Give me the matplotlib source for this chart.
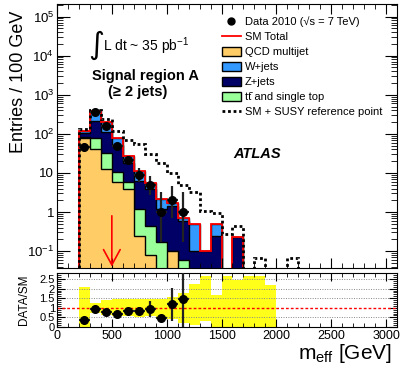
import numpy as np
import matplotlib
matplotlib.use('Agg')
from matplotlib import pyplot as plt
from matplotlib.lines import Line2D
from matplotlib.patches import Patch
from matplotlib.ticker import LogLocator, MultipleLocator, FuncFormatter, NullFormatter

plt.rcParams['font.family'] = ['Liberation Sans', 'DejaVu Sans']
plt.rcParams['mathtext.fontset'] = 'custom'
plt.rcParams['mathtext.rm'] = 'Liberation Sans'
plt.rcParams['mathtext.it'] = 'Liberation Sans:italic'
plt.rcParams['mathtext.bf'] = 'Liberation Sans:bold'

# m_eff histograms, 100 GeV bins starting at 200 GeV
first_edge = 200
bin_width = 100

# SM backgrounds (bins 200-1700)
qcd = [80, 40, 12.5, 5.7, 3.9, 0.25, 0.08, 0, 0.1, 0, 0, 0, 0, 0, 0]
ttbar = [1, 37, 20, 4.6, 1.8, 0.94, 0.37, 0.17, 0, 0.06, 0, 0, 0, 0, 0]
zjets = [27, 136, 80, 43, 12.8, 5.1, 3.55, 1.03, 1.35, 0.54, 0.1, 0.1, 0.24, 0, 0.23]
wjets = [12, 177, 83, 25, 8.5, 5.2, 1.5, 1.0, 0.25, 0.12, 0.39, 0, 0.25, 0, 0]

# SM + SUSY reference point (bins 200-2200)
susy = [135, 400, 240, 120, 70, 54, 30, 18, 10, 5, 3.2, 1.08, 0.95, 0.275, 0.45,
        0, 0.067, 0, 0, 0.067]

# data 2010 (bins 200-1200)
data = [47, 360, 155, 48, 21, 9, 5, 1, 2, 1]
data_err_lo = [6.8, 19, 12.4, 6.9, 4.6, 3.0, 2.2, 0.83, 1.29, 0.83]
data_err_hi = [7.9, 20, 13.4, 8.0, 5.6, 4.1, 3.4, 2.3, 2.6, 2.3]

# ratio panel
ratio = [0.39, 0.96, 0.8, 0.66, 0.82, 0.82, 0.95, 0.46, 1.18, 1.45]
ratio_err = [0.06, 0.05, 0.065, 0.09, 0.17, 0.2, 0.42, 0.05, 0.87, 1.45]
band_lo = [0, 0.72, 0.6, 0.55, 0.55, 0.5, 0.55, 0.5, 0.4, 0.2, 0.1, 0.3, 0, 0, 0, 0, 0, 0]
band_hi = [2.1, 1.25, 1.42, 1.45, 1.47, 1.47, 1.45, 1.45, 1.57, 1.75, 2.25, 2.68, 1.67,
           2.68, 2.45, 2.68, 2.68, 2.2]

cut_value = 500

W, H = 403, 373
floor = 1e-3


def edges_for(n):
    return first_edge + bin_width * np.arange(n + 1)


def fig_xy(x, y):
    return x / W, 1 - y / H


fig = plt.figure(figsize=(W / 100, H / 100), dpi=100)
ax = fig.add_axes([57 / W, 1 - 268 / H, 340 / W, 264 / H])
rax = fig.add_axes([57 / W, 1 - 327 / H, 340 / W, 53.7 / H])

sm_edges = edges_for(len(qcd))
components = [(qcd, '#ffcc66', 'QCD multijet'),
              (ttbar, '#99ff99', 'tt\u0304 and single top'),
              (zjets, '#000066', 'Z+jets'),
              (wjets, '#3399ff', 'W+jets')]
cum = np.cumsum([np.array(c[0], dtype=float) for c in components], axis=0)
for i in reversed(range(len(components))):
    ax.stairs(np.maximum(cum[i], floor), sm_edges, baseline=floor, fill=True,
              facecolor=components[i][1], edgecolor='black', linewidth=1.0)
total = cum[-1]
ax.stairs(np.maximum(total, floor), sm_edges, baseline=floor, color='red', linewidth=1.3)

ax.stairs(np.maximum(np.array(susy, dtype=float), floor), edges_for(len(susy)), baseline=floor,
          color='black', linestyle=(0, (1, 1)), linewidth=2.0)

centers = edges_for(len(data))[:-1] + bin_width / 2
ax.errorbar(centers, data, yerr=[data_err_lo, data_err_hi], xerr=bin_width / 2, fmt='o',
            color='black', ecolor='#222222', ms=5.5, elinewidth=1.6, capsize=0, zorder=5)

ax.annotate('', xy=(cut_value, 0.0), xycoords=('data', 'axes fraction'),
            xytext=(cut_value, 0.8), textcoords='data',
            arrowprops=dict(arrowstyle='->,head_length=1.1,head_width=0.6', color='red', lw=1.2,
                            shrinkA=0, shrinkB=1))

ax.set_yscale('log')
ax.set_xlim(0, 3100)
ax.set_ylim(0.037, 2.1e5)
ax.yaxis.set_major_locator(LogLocator(base=10, numticks=20))
ax.yaxis.set_minor_locator(LogLocator(base=10, subs=np.arange(2, 10), numticks=20))
ax.yaxis.set_minor_formatter(NullFormatter())


def log_label(v, pos):
    if abs(v - 1) < 1e-9:
        return '1'
    if abs(v - 10) < 1e-9:
        return '10'
    return r'10$^{%d}$' % int(round(np.log10(v)))


ax.yaxis.set_major_formatter(FuncFormatter(log_label))
ax.xaxis.set_major_locator(MultipleLocator(500))
ax.xaxis.set_minor_locator(MultipleLocator(100))
ax.tick_params(axis='both', which='both', direction='in', top=True, right=True, labelbottom=False)
ax.tick_params(axis='y', which='major', length=9, labelsize=9.5, pad=2)
ax.tick_params(axis='y', which='minor', length=4.5)
ax.tick_params(axis='x', which='major', length=7)
ax.tick_params(axis='x', which='minor', length=3.5)
ax.set_ylabel('Entries / 100 GeV', fontsize=13, loc='top')
ax.yaxis.set_label_coords(-0.088, 0.975)

# ratio panel
band_edges = edges_for(len(band_lo))
rax.stairs(band_hi, band_edges, baseline=band_lo, fill=True, color='#ffff1a', linewidth=0)
for g in [0.5, 1.5, 2.0, 2.5]:
    rax.axhline(g, color='#888888', linestyle=(0, (1, 1.5)), linewidth=0.7, zorder=1)
rax.axhline(1.0, color='red', linestyle=(0, (2, 1.5)), linewidth=1.0, zorder=2)
rax.errorbar(centers, ratio, yerr=ratio_err, xerr=bin_width / 2, fmt='o', color='black',
             ecolor='#222222', ms=5.5, elinewidth=1.6, capsize=0, zorder=5)
rax.set_xlim(0, 3100)
rax.set_ylim(0, 2.8)
rax.xaxis.set_major_locator(MultipleLocator(500))
rax.xaxis.set_minor_locator(MultipleLocator(100))
rax.yaxis.set_major_locator(MultipleLocator(0.5))
rax.yaxis.set_minor_locator(MultipleLocator(0.1))
rax.yaxis.set_major_formatter(FuncFormatter(lambda v, p: '%g' % v))
rax.tick_params(axis='both', which='both', direction='in', top=True, right=True)
rax.tick_params(axis='x', which='major', length=6, labelsize=9, pad=2)
rax.tick_params(axis='y', which='major', length=6, labelsize=8, pad=1.5)
rax.tick_params(axis='both', which='minor', length=3)
rax.set_ylabel('DATA/SM', fontsize=8.5)
rax.yaxis.set_label_coords(-0.08, 0.5)
rax.set_xlabel(r'm$_{\rm eff}$ [GeV]', fontsize=15, loc='right')
rax.xaxis.set_label_coords(0.985, -0.28)

# text
fig.text(*fig_xy(96, 45), '\u222b', fontsize=22, ha='center', va='center', family='DejaVu Sans')
fig.text(*fig_xy(103, 46), r'L dt ~ 35 pb$^{-1}$', fontsize=10, ha='left', va='center')
fig.text(*fig_xy(146, 76), 'Signal region A', fontsize=10.5, fontweight='bold', ha='center', va='center')
fig.text(*fig_xy(138, 92), '(\u2265 2 jets)', fontsize=10.5, fontweight='bold', ha='center', va='center')
fig.text(*fig_xy(233, 154), 'ATLAS', fontsize=10.5, fontweight='bold', style='italic', ha='left', va='center')

handles = [Line2D([], [], marker='o', color='black', linestyle='none', ms=5),
           Line2D([], [], color='red', lw=1.3),
           Patch(facecolor=components[0][1], edgecolor='black', lw=1.0),
           Patch(facecolor=components[3][1], edgecolor='black', lw=1.0),
           Patch(facecolor=components[2][1], edgecolor='black', lw=1.0),
           Patch(facecolor=components[1][1], edgecolor='black', lw=1.0),
           Line2D([], [], color='black', linestyle=(0, (1, 1)), lw=2.0)]
labels = ['Data 2010 (\u221as = 7 TeV)', 'SM Total', components[0][2], components[3][2],
          components[2][2], components[1][2], 'SM + SUSY reference point']
fig.legend(handles, labels, loc='upper left', bbox_to_anchor=fig_xy(222, 16), frameon=False,
           fontsize=8, handlelength=1.7, handleheight=0.9, handletextpad=0.35,
           labelspacing=0.42, borderpad=0, borderaxespad=0)

fig.savefig('out.png', dpi=100)
